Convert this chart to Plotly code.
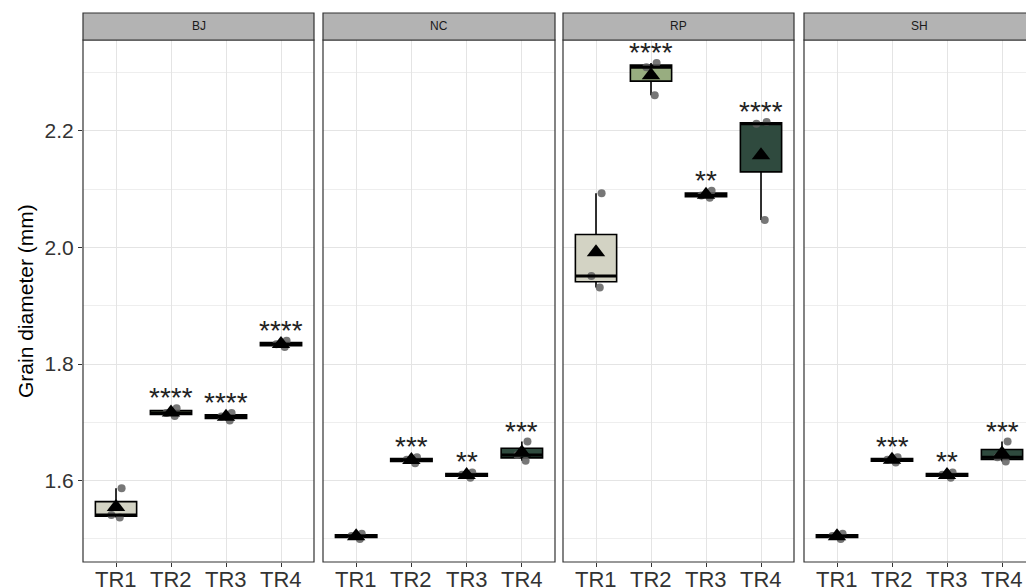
import numpy as np
import plotly.graph_objects as go

# ---------------- data ----------------
panels = ["BJ", "NC", "RP", "SH"]
treatments = ["TR1", "TR2", "TR3", "TR4"]

bj_values = [[1.537, 1.541, 1.587], [1.711, 1.716, 1.724], [1.703, 1.710, 1.716], [1.829, 1.834, 1.840]]
nc_values = [[1.500, 1.505, 1.509], [1.630, 1.636, 1.640], [1.605, 1.610, 1.614], [1.634, 1.644, 1.667]]
rp_values = [[1.931, 1.951, 2.093], [2.261, 2.309, 2.316], [2.085, 2.089, 2.097], [2.047, 2.212, 2.215]]
sh_values = [[1.500, 1.505, 1.509], [1.631, 1.636, 1.640], [1.605, 1.610, 1.614], [1.633, 1.640, 1.667]]

bj_labels = ["", "****", "****", "****"]
nc_labels = ["", "***", "**", "***"]
rp_labels = ["", "****", "**", "****"]
sh_labels = ["", "***", "**", "***"]

y_ticks = [1.6, 1.8, 2.0, 2.2]
y_minor = [1.5, 1.7, 1.9, 2.1, 2.3]

panel_values = [bj_values, nc_values, rp_values, sh_values]
panel_labels = [bj_labels, nc_labels, rp_labels, sh_labels]

# ---------------- style ----------------
W, H = 1026, 587
fills = ["#d3d3c4", "#98ad80", "#4e6e55", "#2f4a3e"]
panel_px = [(83, 314), (323, 555), (563, 794), (804, 1035)]
top_px, bottom_px, strip_top_px = 40, 562, 13
xlabel_top_px = 565
y_range = [1.4605, 2.3556]
box_w = 0.75
grid_col = "#e4e4e4"
border_col = "#333333"
font = "Liberation Sans, Arial, sans-serif"

fig = go.Figure()

def px_x(p):
    return p / W

def px_y(p):
    return 1 - p / H

ydom = [px_y(bottom_px), px_y(top_px)]

for pi, (pname, vals, labs) in enumerate(zip(panels, panel_values, panel_labels)):
    xa = "x" if pi == 0 else f"x{pi+1}"
    ya = "y" if pi == 0 else f"y{pi+1}"
    for ti, tname in enumerate(treatments):
        v = vals[ti]
        fig.add_trace(go.Box(
            x=[ti + 1] * len(v), y=v, xaxis=xa, yaxis=ya,
            width=box_w, fillcolor=fills[ti],
            line=dict(color="black", width=1.6), whiskerwidth=0,
            boxpoints="all", jitter=0.35, pointpos=0,
            marker=dict(color="rgba(95,95,95,0.85)", size=8, line=dict(width=0)),
            quartilemethod="inclusive", showlegend=False, hoverinfo="y",
        ))
        med = float(np.median(v))
        fig.add_trace(go.Scatter(
            x=[ti + 1 - box_w / 2, ti + 1 + box_w / 2], y=[med, med], xaxis=xa, yaxis=ya,
            mode="lines", line=dict(color="black", width=3), showlegend=False, hoverinfo="skip",
        ))
        # x tick label (placed as text so its vertical position matches the reference)
        fig.add_annotation(
            x=ti + 1, y=px_y(xlabel_top_px), xref=xa, yref="paper", text=tname,
            showarrow=False, xanchor="center", yanchor="top",
            font=dict(family=font, size=22, color="#333333"),
        )
    means = [float(np.mean(v)) for v in vals]
    fig.add_trace(go.Scatter(
        x=list(range(1, len(treatments) + 1)), y=means, xaxis=xa, yaxis=ya,
        mode="markers", marker=dict(symbol="triangle-up", size=16, color="black"),
        showlegend=False, hoverinfo="y",
    ))
    for ti, lab in enumerate(labs):
        if lab:
            fig.add_annotation(
                x=ti + 1, y=max(vals[ti]), xref=xa, yref=ya, text=lab,
                showarrow=False, yanchor="bottom", yshift=-7,
                font=dict(family=font, size=28, color="#222222"),
            )

    x0, x1 = panel_px[pi]
    rng_hi = 4.6 if x1 <= W else 0.4 + (W - x0) * 4.2 / (x1 - x0)
    axkey = "xaxis" if pi == 0 else f"xaxis{pi+1}"
    aykey = "yaxis" if pi == 0 else f"yaxis{pi+1}"
    fig.update_layout(**{
        axkey: dict(
            domain=[px_x(x0), min(px_x(x1), 1.0)], range=[0.4, rng_hi], anchor=ya,
            tickvals=list(range(1, len(treatments) + 1)), showticklabels=False,
            ticks="outside", ticklen=4, tickcolor=border_col, tickwidth=1.2,
            showgrid=True, gridcolor=grid_col, gridwidth=1.3, automargin=False,
            zeroline=False, showline=False, fixedrange=True,
        ),
        aykey: dict(
            domain=ydom, range=y_range, anchor=xa,
            tickvals=y_ticks, ticktext=[f"{t:.1f}" for t in y_ticks],
            ticks="outside" if pi == 0 else "", ticklen=4, tickcolor=border_col, tickwidth=1.2,
            showticklabels=(pi == 0), automargin=False,
            tickfont=dict(family=font, size=21, color="#333333"),
            showgrid=True, gridcolor=grid_col, gridwidth=1.3,
            minor=dict(tickvals=y_minor, showgrid=True, gridcolor="#eeeeee", gridwidth=0.7, ticks=""),
            zeroline=False, showline=False, fixedrange=True,
        ),
    })
    # panel border
    fig.add_shape(type="rect", xref="paper", yref="paper",
                  x0=px_x(x0), x1=px_x(x1), y0=ydom[0], y1=ydom[1],
                  line=dict(color=border_col, width=1.2), fillcolor="rgba(0,0,0,0)", layer="above")
    # strip
    fig.add_shape(type="rect", xref="paper", yref="paper",
                  x0=px_x(x0), x1=px_x(x1), y0=ydom[1], y1=px_y(strip_top_px),
                  line=dict(color=border_col, width=1.2), fillcolor="#b3b3b3", layer="above")
    fig.add_annotation(x=px_x((x0 + x1) / 2), y=px_y((strip_top_px + top_px) / 2),
                       xref="paper", yref="paper", text=pname, showarrow=False,
                       xanchor="center", yanchor="middle",
                       font=dict(family=font, size=12, color="#1a1a1a"))

fig.add_annotation(x=px_x(25), y=px_y((top_px + bottom_px) / 2), xref="paper", yref="paper",
                   text="Grain diameter (mm)", textangle=-90, showarrow=False,
                   xanchor="center", yanchor="middle",
                   font=dict(family=font, size=21, color="black"))

fig.update_layout(
    width=W, height=H, margin=dict(l=0, r=0, t=0, b=0, autoexpand=False),
    paper_bgcolor="white", plot_bgcolor="white", showlegend=False,
    font=dict(family=font),
)

fig.write_html("out.html", config={"displayModeBar": False},
               post_script="document.body.style.margin='0';document.body.style.overflow='hidden';")
